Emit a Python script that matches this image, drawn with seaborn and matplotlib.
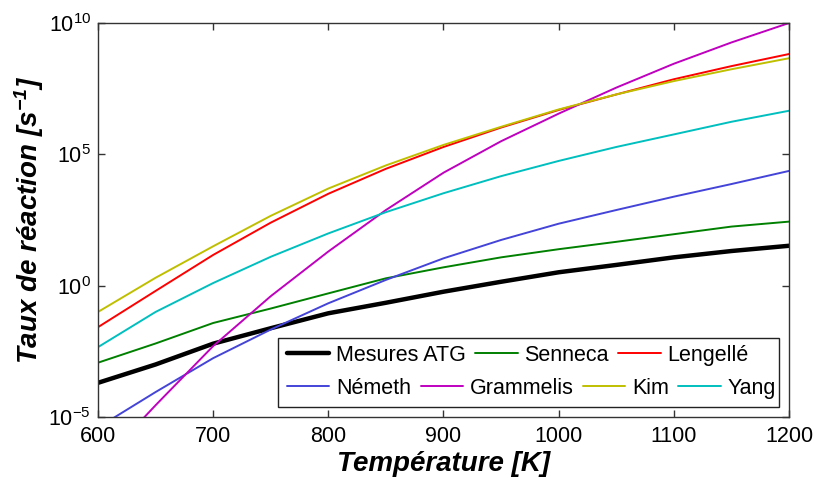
import numpy as np
import pandas as pd
import matplotlib
matplotlib.use("Agg")
import matplotlib.pyplot as plt
import seaborn as sns
from matplotlib.lines import Line2D
from matplotlib.patches import Rectangle
from matplotlib.ticker import NullLocator

# ---- data ----
temperature = [600, 650, 700, 750, 800, 850, 900, 950, 1000, 1050, 1100, 1150, 1200]

mesures_atg = [2.0e-4, 1.0e-3, 6.2e-3, 2.4e-2, 8.9e-2, 0.224, 0.59, 1.41, 3.24, 6.17, 12.0, 20.9, 33.1]
senneca = [1.17e-3, 6.3e-3, 3.8e-2, 0.135, 0.51, 1.91, 5.0, 12.0, 24.5, 46.8, 91.2, 178, 275]
lengelle = [2.63e-2, 0.631, 14.8, 251, 3.16e3, 2.82e4, 1.91e5, 1.05e6, 4.90e6, 1.91e7, 7.24e7, 2.29e8, 6.61e8]
nemeth = [3.98e-6, 8.9e-5, 1.74e-3, 2.14e-2, 0.214, 1.66, 11.0, 55.0, 229, 759, 2.45e3, 7.41e3, 2.34e4]
grammelis = [1.3e-7, 2.8e-5, 5.0e-3, 0.398, 20.0, 759, 2.0e4, 3.16e5, 3.55e6, 3.47e7, 2.82e8, 1.82e9, 1.0e10]
kim = [0.1, 2.0, 31.6, 457, 5.0e3, 3.8e4, 2.29e5, 1.12e6, 5.13e6, 1.91e7, 6.17e7, 1.74e8, 4.57e8]
yang = [4.57e-3, 0.1, 1.26, 12.6, 97.7, 631, 3.31e3, 1.48e4, 5.62e4, 1.91e5, 5.75e5, 1.74e6, 4.57e6]

series_names = ["Mesures ATG", "Senneca", "Lengellé", "Németh", "Grammelis", "Kim", "Yang"]
series_values = [mesures_atg, senneca, lengelle, nemeth, grammelis, kim, yang]

x_ticks = [600, 700, 800, 900, 1000, 1100, 1200]
y_ticks = [1e-5, 1e0, 1e5, 1e10]

colors = {
    "Mesures ATG": "#000000",
    "Senneca": "#008000",
    "Lengellé": "#ff0000",
    "Németh": "#4444d8",
    "Grammelis": "#bf00bf",
    "Kim": "#bfbf00",
    "Yang": "#00bfbf",
}
widths = {n: 1.4 for n in series_names}
widths["Mesures ATG"] = 3.2

# ---- style ----
sns.set_theme(style="ticks")
plt.rcParams.update({
    "font.family": ["Liberation Sans", "DejaVu Sans"],
    "mathtext.fontset": "custom",
    "mathtext.rm": "Liberation Sans",
    "mathtext.it": "Liberation Sans:italic",
    "mathtext.bf": "Liberation Sans:bold:italic",
    "axes.edgecolor": "#333333",
    "axes.linewidth": 1.0,
    "text.color": "black",
    "axes.labelcolor": "black",
    "xtick.labelcolor": "black",
    "ytick.labelcolor": "black",
})

df = pd.DataFrame({
    "T": np.tile(temperature, len(series_names)),
    "k": np.concatenate([np.asarray(v, dtype=float) for v in series_values]),
    "model": np.repeat(series_names, len(temperature)),
})

fig = plt.figure(figsize=(8.15, 4.79), dpi=100)
ax = fig.add_axes([0.1202, 0.1294, 0.8479, 0.8225])

sns.lineplot(data=df, x="T", y="k", hue="model", size="model",
             hue_order=series_names, size_order=series_names,
             palette=colors, sizes=widths, estimator=None, sort=False,
             legend=False, ax=ax)

ax.set_yscale("log")
ax.set_xlim(600, 1200)
ax.set_ylim(1e-5, 1e10)
ax.set_xticks(x_ticks)
ax.set_yticks(y_ticks)
ax.yaxis.set_minor_locator(NullLocator())
ax.xaxis.set_minor_locator(NullLocator())
ax.tick_params(direction="in", length=5, width=1, top=True, right=True,
               labelsize=15.5, colors="#333333", labelcolor="black")
ax.tick_params(axis="x", pad=6.5)
ax.tick_params(axis="y", pad=5)

ax.set_xlabel("Température [K]", fontsize=20, fontweight="bold", fontstyle="italic",
              labelpad=3, color="black")
ax.set_ylabel(r"Taux de réaction [s$^{\mathbf{-1}}$]", fontsize=20, fontweight="bold",
              fontstyle="italic", labelpad=2, color="black")

# ---- legend: two flowing rows inside one box ----
handles = [Line2D([], [], color=colors[n], lw=widths[n]) for n in series_names]
common = dict(frameon=False, borderpad=0, borderaxespad=0, handlelength=1.97,
              handletextpad=0.3, columnspacing=0.45, fontsize=15.5, loc="center left",
              labelcolor="black")
leg1 = ax.legend(handles[:3], series_names[:3], ncol=3, bbox_to_anchor=(0.2735, 0.157), **common)
ax.add_artist(leg1)
leg2 = ax.legend(handles[3:], series_names[3:], ncol=4, bbox_to_anchor=(0.2735, 0.0736), **common)
ax.add_artist(Rectangle((0.260, 0.025), 0.726, 0.1755, transform=ax.transAxes,
                        facecolor="white", edgecolor="#222222", lw=1.0, zorder=4))

fig.savefig("out.png", dpi=100)
